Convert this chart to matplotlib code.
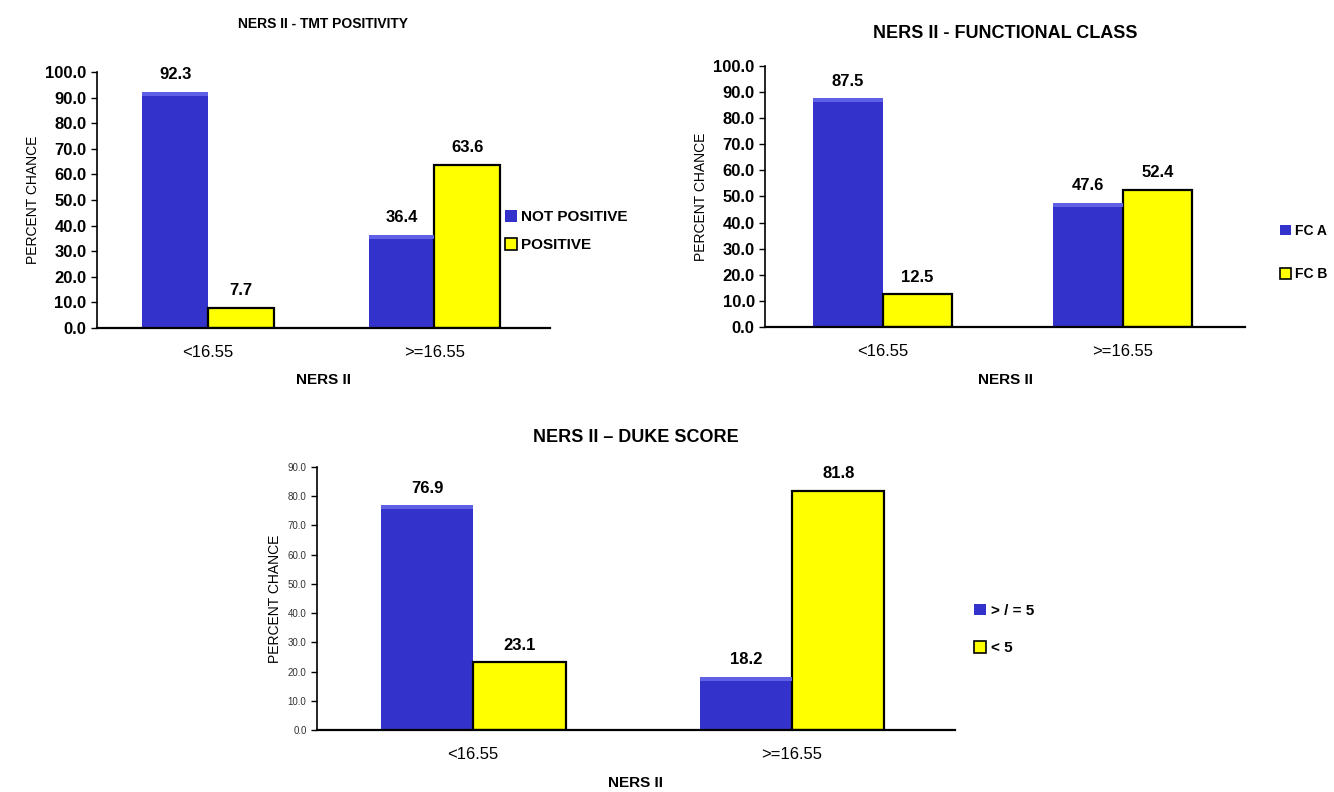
import numpy as np
import matplotlib.pyplot as plt
from matplotlib.patches import Patch

plt.rcParams['font.family'] = ['Liberation Sans', 'DejaVu Sans']

categorias = ['<16.55', '>=16.55']

tmt_no_positivo = [92.3, 36.4]
tmt_positivo = [7.7, 63.6]

fc_a = [87.5, 47.6]
fc_b = [12.5, 52.4]

duke_alto = [76.9, 18.2]
duke_bajo = [23.1, 81.8]

AZUL = '#3333cc'
AMARILLO = '#ffff00'


def dibujar_panel(ax, serie_a, serie_b, titulo, ymax, yticks, tam_ticks, tick_bold,
                  tam_titulo, pad_titulo, leyenda, pos_leyenda, tam_leyenda=11,
                  sep_leyenda=0.9):
    x = np.arange(len(categorias))
    ancho = 0.29
    barras_a = ax.bar(x - ancho / 2, serie_a, ancho, color=AZUL, edgecolor='none')
    barras_b = ax.bar(x + ancho / 2, serie_b, ancho, color=AMARILLO,
                      edgecolor='black', linewidth=1.6)

    # franja clara arriba de las barras azules (efecto bisel)
    for b in barras_a:
        ax.bar(b.get_x() + b.get_width() / 2, ymax * 0.015, b.get_width(),
               bottom=b.get_height() - ymax * 0.015, color='#6060e6', edgecolor='none')

    for barras in (barras_a, barras_b):
        for b in barras:
            ax.annotate(f'{b.get_height():.1f}',
                        (b.get_x() + b.get_width() / 2, b.get_height()),
                        xytext=(0, 7), textcoords='offset points',
                        ha='center', va='bottom', fontsize=12, fontweight='bold')

    ax.set_xlim(-0.49, 1.51)
    ax.set_ylim(0, ymax)
    ax.set_yticks(yticks)
    ax.set_yticklabels([f'{v:.1f}' for v in yticks], fontsize=tam_ticks,
                       fontweight='bold' if tick_bold else 'normal',
                       color='black' if tick_bold else '#333333')
    ax.set_xticks(x)
    ax.set_xticklabels(categorias, fontsize=12)
    ax.tick_params(axis='x', length=0, pad=12)
    ax.tick_params(axis='y', length=4, width=1, direction='out')
    ax.spines['top'].set_visible(False)
    ax.spines['right'].set_visible(False)
    ax.spines['left'].set_linewidth(1.2)
    ax.spines['bottom'].set_linewidth(1.6)
    ax.set_ylabel('PERCENT CHANCE', fontsize=10)
    ax.set_xlabel('NERS II', fontsize=11, fontweight='bold', labelpad=10)
    ax.set_title(titulo, fontsize=tam_titulo, fontweight='bold', pad=pad_titulo)

    manejadores = [Patch(facecolor=AZUL, edgecolor='none'),
                   Patch(facecolor=AMARILLO, edgecolor='black', linewidth=1.2)]
    fig.legend(manejadores, leyenda, loc='upper left', bbox_to_anchor=pos_leyenda,
               frameon=False, handlelength=0.8, handleheight=0.8, handletextpad=0.3,
               labelspacing=sep_leyenda, prop={'weight': 'bold', 'size': tam_leyenda})


fig = plt.figure(figsize=(13.34, 7.92), dpi=100)

ax1 = fig.add_axes([0.0727, 0.586, 0.3396, 0.323])
dibujar_panel(ax1, tmt_no_positivo, tmt_positivo, 'NERS II - TMT POSITIVITY', 100,
              np.arange(0, 101, 10), 12, True, 10, 32,
              ['NOT POSITIVE', 'POSITIVE'], (0.368, 0.752))

ax2 = fig.add_axes([0.5735, 0.587, 0.36, 0.330])
dibujar_panel(ax2, fc_a, fc_b, 'NERS II - FUNCTIONAL CLASS', 100,
              np.arange(0, 101, 10), 12, True, 13, 20,
              ['FC A', 'FC B'], (0.950, 0.733), tam_leyenda=10, sep_leyenda=2.1)

ax3 = fig.add_axes([0.2376, 0.0783, 0.478, 0.332])
dibujar_panel(ax3, duke_alto, duke_bajo, 'NERS II \u2013 DUKE SCORE', 90,
              np.arange(0, 91, 10), 7, False, 13, 18,
              ['> / = 5', '< 5'], (0.72, 0.255), sep_leyenda=1.5)

fig.savefig('out.png', dpi=100)
